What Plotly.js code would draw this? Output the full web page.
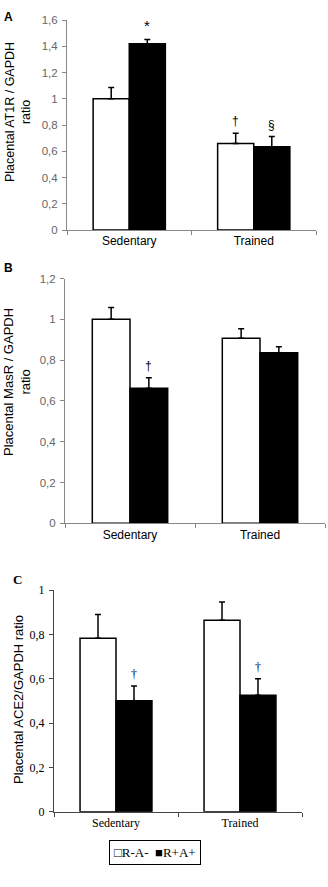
<!DOCTYPE html>
<html><head><meta charset="utf-8">
<script src="https://cdn.plot.ly/plotly-3.0.1.min.js"></script>
<style>html,body{margin:0;padding:0;background:#fff}#chart{width:328px;height:887px}</style>
</head><body><div id="chart"></div>
<script>
// ---- data ----
const categories = ['Sedentary', 'Trained'];
const legendNames = ['R-A-', 'R+A+'];

const at1rWhite = [1.00, 0.66];
const at1rWhiteErr = [0.085, 0.078];
const at1rBlack = [1.42, 0.635];
const at1rBlackErr = [0.032, 0.077];

const masrWhite = [1.00, 0.907];
const masrWhiteErr = [0.058, 0.047];
const masrBlack = [0.662, 0.836];
const masrBlackErr = [0.052, 0.030];

const ace2White = [0.782, 0.863];
const ace2WhiteErr = [0.108, 0.083];
const ace2Black = [0.500, 0.525];
const ace2BlackErr = [0.067, 0.075];

const at1rTicks = [0, 0.2, 0.4, 0.6, 0.8, 1, 1.2, 1.4, 1.6];
const at1rTickText = ['0', '0,2', '0,4', '0,6', '0,8', '1', '1,2', '1,4', '1,6'];
const masrTicks = [0, 0.2, 0.4, 0.6, 0.8, 1, 1.2];
const masrTickText = ['0', '0,2', '0,4', '0,6', '0,8', '1', '1,2'];
const ace2Ticks = [0, 0.2, 0.4, 0.6, 0.8, 1];
const ace2TickText = ['0', '0,2', '0,4', '0,6', '0,8', '1'];

// significance marks: [symbol, category index, group(0 white / 1 black)]
const marksA = [['*', 0, 1], ['\u2020', 1, 0], ['\u00a7', 1, 1]];
const marksB = [['\u2020', 0, 1]];
const marksC = [['\u2020', 0, 1], ['\u2020', 1, 1]];

// ---- build ----
const SANS = 'Liberation Sans, Arial, sans-serif';
const SERIF = 'Liberation Serif, Times New Roman, serif';
const H = 887, W = 328;

function errObj(arr) {
  return {type: 'data', symmetric: false, array: arr, arrayminus: arr.map(() => 0),
          color: '#000', thickness: 1.5, width: 3};
}
function pair(white, wErr, black, bErr, xa, ya) {
  return [
    {type: 'bar', x: categories, y: white, name: legendNames[0], xaxis: xa, yaxis: ya,
     marker: {color: '#fff', line: {color: '#000', width: 1.5}}, error_y: errObj(wErr), showlegend: false},
    {type: 'bar', x: categories, y: black, name: legendNames[1], xaxis: xa, yaxis: ya,
     marker: {color: '#000', line: {color: '#000', width: 1.5}}, error_y: errObj(bErr), showlegend: false}
  ];
}
const data = [].concat(
  pair(at1rWhite, at1rWhiteErr, at1rBlack, at1rBlackErr, 'x', 'y'),
  pair(masrWhite, masrWhiteErr, masrBlack, masrBlackErr, 'x2', 'y2'),
  pair(ace2White, ace2WhiteErr, ace2Black, ace2BlackErr, 'x3', 'y3')
);

function xax(d, font, lc, anchor) {
  return {domain: d, type: 'category', showline: true, linecolor: lc, linewidth: 1,
          ticks: 'outside', ticklen: 4, tickcolor: lc, tickson: 'boundaries', anchor: anchor,
          tickfont: font, showgrid: false, zeroline: false, fixedrange: true};
}
function yax(d, range, tv, tt, font, lc, anchor) {
  return {domain: d, range: range, tickvals: tv, ticktext: tt, showline: true, linecolor: lc,
          linewidth: 1, ticks: 'outside', ticklen: 4, tickcolor: lc, tickfont: font,
          showgrid: false, zeroline: false, anchor: anchor, fixedrange: true, ticklabelstandoff: 2};
}
const fontAB = {family: SANS, size: 11.5, color: '#666'};
const catAB = {family: SANS, size: 12, color: '#000'};
const fontC = {family: SERIF, size: 12, color: '#000'};

const BW = (1 - 0.42) / 2;
function markAnns(marks, white, wErr, black, bErr, xr, yr) {
  return marks.map(m => {
    const [sym, ci, g] = m;
    const top = g === 0 ? white[ci] + wErr[ci] : black[ci] + bErr[ci];
    return {xref: xr, yref: yr, x: ci + (g === 0 ? -BW / 2 : BW / 2), y: top, text: sym,
            showarrow: false, xanchor: 'center', yanchor: 'bottom', yshift: 3,
            font: {family: xr === 'x3' ? SERIF : SANS, size: sym === '*' ? 15 : 12, color: '#000'}};
  });
}
function vtitle(text, xpx, ypx, font) {
  return {xref: 'paper', yref: 'paper', x: xpx / W, y: 1 - ypx / H, text: text, textangle: -90,
          showarrow: false, xanchor: 'center', yanchor: 'middle', font: font};
}

const annotations = [
  {xref: 'paper', yref: 'paper', x: 2 / W, y: 1 - 17 / H, text: '<b>A</b>', showarrow: false,
   xanchor: 'left', yanchor: 'middle', font: {family: SANS, size: 12, color: '#000'}},
  {xref: 'paper', yref: 'paper', x: 2 / W, y: 1 - 268 / H, text: '<b>B</b>', showarrow: false,
   xanchor: 'left', yanchor: 'middle', font: {family: SANS, size: 12, color: '#000'}},
  {xref: 'paper', yref: 'paper', x: 11 / W, y: 1 - 579 / H, text: '<b>C</b>', showarrow: false,
   xanchor: 'left', yanchor: 'middle', font: {family: SERIF, size: 13, color: '#000'}},
  vtitle('Placental AT1R / GAPDH<br>ratio', 18, 112, {family: SANS, size: 12.5, color: '#000'}),
  vtitle('Placental MasR / GAPDH<br>ratio', 17, 382, {family: SANS, size: 13, color: '#000'}),
  vtitle('Placental ACE2/GAPDH ratio', 18, 700, {family: SANS, size: 13, color: '#000'}),
  {xref: 'paper', yref: 'paper', x: 155 / W, y: 1 - 852.5 / H, xanchor: 'center', yanchor: 'middle',
   text: '\u25a1' + legendNames[0] + '  \u25a0' + legendNames[1], showarrow: false,
   bordercolor: '#000', borderwidth: 1, borderpad: 4,
   font: {family: SERIF, size: 13, color: '#000'}}
].concat(
  markAnns(marksA, at1rWhite, at1rWhiteErr, at1rBlack, at1rBlackErr, 'x', 'y'),
  markAnns(marksB, masrWhite, masrWhiteErr, masrBlack, masrBlackErr, 'x2', 'y2'),
  markAnns(marksC, ace2White, ace2WhiteErr, ace2Black, ace2BlackErr, 'x3', 'y3')
);

const layout = {
  width: W, height: H, margin: {l: 0, r: 0, t: 0, b: 0},
  paper_bgcolor: '#fff', plot_bgcolor: '#fff',
  barmode: 'group', bargap: 0.42, bargroupgap: 0, showlegend: false,
  xaxis: xax([67 / W, 316 / W], catAB, '#888', 'y'),
  yaxis: yax([1 - 230 / H, 1 - 20 / H], [0, 1.6], at1rTicks, at1rTickText, fontAB, '#888', 'x'),
  xaxis2: xax([65 / W, 325 / W], catAB, '#888', 'y2'),
  yaxis2: yax([1 - 523.3 / H, 1 - 278.5 / H], [0, 1.2], masrTicks, masrTickText, fontAB, '#888', 'x2'),
  xaxis3: xax([54 / W, 302 / W], fontC, '#444', 'y3'),
  yaxis3: yax([1 - 811.7 / H, 1 - 590 / H], [0, 1], ace2Ticks, ace2TickText, fontC, '#444', 'x3'),
  annotations: annotations
};

Plotly.newPlot('chart', data, layout, {displayModeBar: false, staticPlot: true});
</script></body></html>
